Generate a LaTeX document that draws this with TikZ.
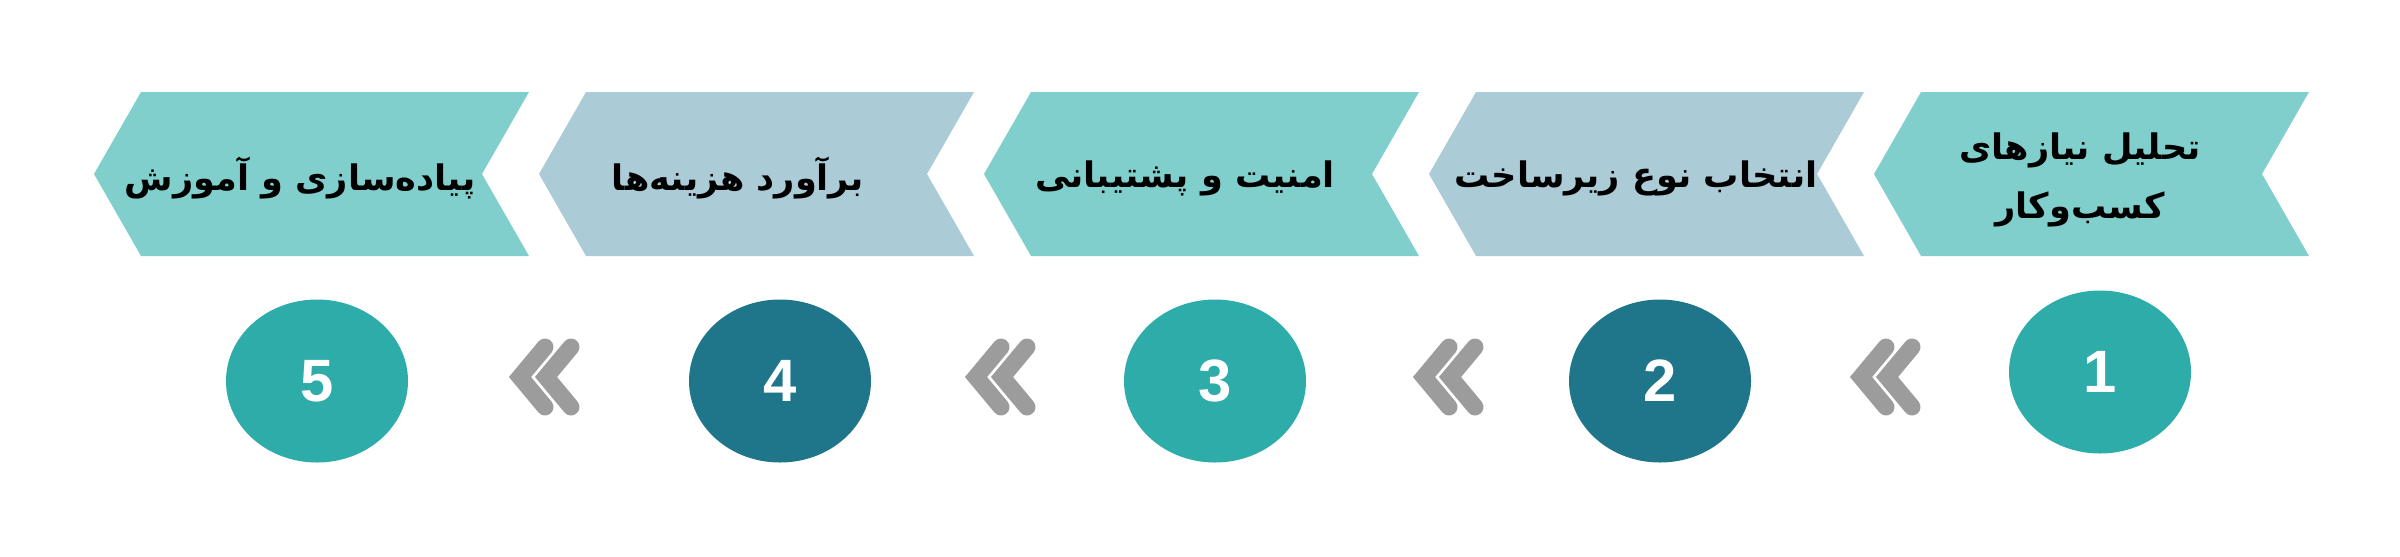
\documentclass[tikz,border=0pt]{standalone}
\usepackage{fontspec}
\setmainfont{Liberation Sans}
\newfontfamily\arabicfont[Script=Arabic]{DejaVu Sans}
\TeXXeTstate=1
\usetikzlibrary{calc, shapes.geometric}

\definecolor{tealLight}{HTML}{80CFCC}
\definecolor{blueGray}{HTML}{ABCBD6}
\definecolor{tealDark}{HTML}{2EACAA}
\definecolor{petrol}{HTML}{1F758A}
\definecolor{arrowGray}{HTML}{9C9C9C}

\tikzset{
  stepText/.style={font=\arabicfont\bfseries\fontsize{10}{15}\selectfont, align=center, inner sep=0pt},
  numCircle/.style={ellipse, minimum width=18.2mm, minimum height=16.3mm, inner sep=0pt,
                    text=white, font=\fontsize{17}{20}\selectfont\bfseries},
  backArrow/.style={arrowGray, line width=1.7mm, line cap=round, line join=miter}
}

% double chevron pointing left, #1 = tip
\newcommand{\backArrows}[1]{%
  \foreach \dx in {0,26}
    \draw[backArrow] ($(#1)+(36+\dx,-30)$) -- ($(#1)+(11+\dx,0)$) -- ($(#1)+(36+\dx,30)$);
}

\begin{document}
\begin{tikzpicture}[x=0.1mm, y=-0.1mm]

 %%Paramaters
%% chevron row, can be modified
\def\chevTop{92}
\def\chevMid{174}
\def\chevW{388}
\def\chevTip{47}
\def\numPos{381}
\useasboundingbox (0,0) rectangle (2400,556);

 %% ***Step 1 : business needs***
\coordinate (c1) at (1921, \chevTop);
\fill[tealLight] (c1) -- ++(\chevW,0) -- ++(-\chevTip,82) -- ++(\chevTip,82) -- ++(-\chevW,0) -- ++(-\chevTip,-82) -- cycle;
\node[stepText] (step1) at (2080, 180) {\beginR تحلیل نیازهای\endR\\[2pt]\beginR کسب‌وکار\endR};
\node[numCircle, fill=tealDark] (num1) at (2100, 372) {1};

 %% ***Step 2 : infrastructure***
\coordinate (c2) at (1476, \chevTop);
\fill[blueGray] (c2) -- ++(\chevW,0) -- ++(-\chevTip,82) -- ++(\chevTip,82) -- ++(-\chevW,0) -- ++(-\chevTip,-82) -- cycle;
\node[stepText] (step2) at (1636, 178) {\beginR انتخاب نوع زیرساخت\endR};
\node[numCircle, fill=petrol] (num2) at (1660, \numPos) {2};

 %% ***Step 3 : security***
\coordinate (c3) at (1031, \chevTop);
\fill[tealLight] (c3) -- ++(\chevW,0) -- ++(-\chevTip,82) -- ++(\chevTip,82) -- ++(-\chevW,0) -- ++(-\chevTip,-82) -- cycle;
\node[stepText] (step3) at (1185, 178) {\beginR امنیت و پشتیبانی\endR};
\node[numCircle, fill=tealDark] (num3) at (1215, \numPos) {3};

 %% ***Step 4 : costs***
\coordinate (c4) at (586, \chevTop);
\fill[blueGray] (c4) -- ++(\chevW,0) -- ++(-\chevTip,82) -- ++(\chevTip,82) -- ++(-\chevW,0) -- ++(-\chevTip,-82) -- cycle;
\node[stepText] (step4) at (738, 178) {\beginR برآورد هزینه‌ها\endR};
\node[numCircle, fill=petrol] (num4) at (780, \numPos) {4};

 %% ***Step 5 : implementation***
\coordinate (c5) at (141, \chevTop);
\fill[tealLight] (c5) -- ++(\chevW,0) -- ++(-\chevTip,82) -- ++(\chevTip,82) -- ++(-\chevW,0) -- ++(-\chevTip,-82) -- cycle;
\node[stepText] (step5) at (300, 178) {\beginR پیاده‌سازی و آموزش\endR};
\node[numCircle, fill=tealDark] (num5) at (317, \numPos) {5};

%% arrows between the numbers
\coordinate (arr1) at (1850, 377);
\coordinate (arr2) at (1413, 377);
\coordinate (arr3) at (965, 377);
\coordinate (arr4) at (509, 377);
\backArrows{arr1}
\backArrows{arr2}
\backArrows{arr3}
\backArrows{arr4}

 \end{tikzpicture}
\end{document}
